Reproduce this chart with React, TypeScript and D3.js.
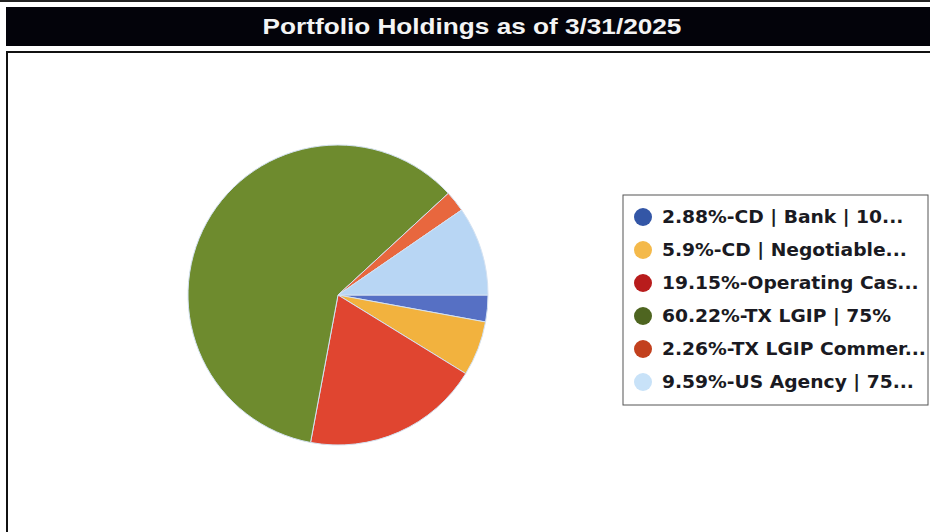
import * as d3 from "d3";
import React from "react";

// holdings as of 3/31/2025
const labels = [
  "2.88%-CD | Bank | 10...",
  "5.9%-CD | Negotiable...",
  "19.15%-Operating Cas...",
  "60.22%-TX LGIP | 75%",
  "2.26%-TX LGIP Commer...",
  "9.59%-US Agency | 75...",
];
const values = [2.88, 5.9, 19.15, 60.22, 2.26, 9.59];
const sliceColors = ["#5670c4", "#f2b23e", "#e04530", "#6e8b2e", "#e8673e", "#b8d6f4"];
const legendColors = ["#3356a6", "#f4b94a", "#b81c1c", "#4e6520", "#c2401e", "#c8e2f8"];

const width = 930;
const height = 532;

function App() {
  const cx = 338;
  const cy = 295;
  const radius = 150;

  const pie = d3
    .pie<number>()
    .sort(null)
    .startAngle(Math.PI / 2)
    .endAngle(Math.PI / 2 + 2 * Math.PI)
    .value((d) => d);

  const arc = d3.arc<d3.PieArcDatum<number>>().innerRadius(0).outerRadius(radius);

  const arcs = pie(values);

  const legendX = 623;
  const legendY = 195;
  const rowH = 33;

  return (
    <div style={{ position: "absolute", left: 0, top: 0 }}>
      <svg width={width} height={height} style={{ display: "block", background: "#fff" }}>
        {/* thin line at very top */}
        <rect x={0} y={0} width={width} height={2} fill="#222" />

        {/* title bar */}
        <rect x={6} y={7} width={width - 6} height={39} fill="#03030a" />
        <text
          x={0}
          y={0}
          transform={`translate(472, 34) scale(1.19, 1)`}
          textAnchor="middle"
          fill="#f4f4f4"
          style={{ fontFamily: "'Liberation Sans', Arial, sans-serif", fontWeight: "bold", fontSize: 22 }}
        >
          Portfolio Holdings as of 3/31/2025
        </text>

        {/* chart frame */}
        <rect x={7} y={52} width={width + 10} height={height} fill="none" stroke="#111" strokeWidth={2} />

        {/* pie */}
        <g transform={`translate(${cx}, ${cy})`}>
          {arcs.map((a, i) => (
            <path key={i} d={arc(a) || ""} fill={sliceColors[i]} stroke="#d4e2f2" strokeWidth={1} />
          ))}
        </g>

        {/* legend */}
        <rect
          x={legendX}
          y={legendY}
          width={305}
          height={210}
          fill="#fff"
          stroke="#555"
          strokeWidth={1}
        />
        {labels.map((label, i) => {
          const y = legendY + 22 + i * rowH;
          return (
            <g key={i}>
              <circle cx={643} cy={y} r={9} fill={legendColors[i]} />
              <text
                x={0}
                y={0}
                transform={`translate(662, ${y + 6}) scale(1.1, 1)`}
                fill="#1a1a22"
                style={{ fontFamily: "'DejaVu Sans', Verdana, sans-serif", fontWeight: "bold", fontSize: 17 }}
              >
                {label}
              </text>
            </g>
          );
        })}
      </svg>
    </div>
  );
}

export default App;
